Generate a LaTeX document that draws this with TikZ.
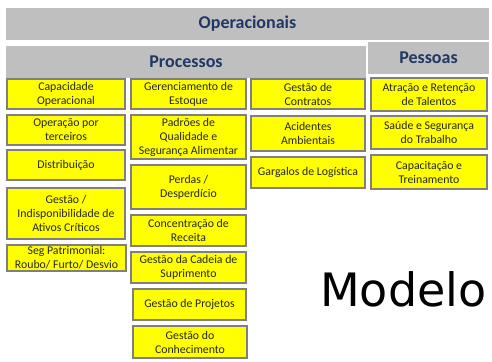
\documentclass[tikz,border=0pt]{standalone}
\usepackage{fontspec}
\setmainfont{Carlito}
\newfontfamily\carl{Carlito}
\newfontfamily\dejavu{DejaVu Sans}
\definecolor{bargray}{HTML}{BFBFBF}
\definecolor{navy}{HTML}{1F3864}
\definecolor{boxborder}{HTML}{7F7F7F}
\definecolor{ylw}{HTML}{FFFF00}
\tikzset{
  ybox/.style={draw=boxborder, line width=1.6pt, fill=ylw, inner sep=0pt,
    align=center, font=\carl\fontsize{11.8}{14}\selectfont, text=black!85},
  bar/.style={fill=bargray, inner sep=0pt, font=\carl\bfseries\fontsize{18}{20}\selectfont, text=navy}
}
\newcommand{\ybx}[6]{%
  \node[ybox, minimum width={#4pt-#2pt-1.6pt}, minimum height={#5pt-#3pt-1.6pt}]
    (#1) at ({(#2+#4)/2},{(#3+#5)/2}) {#6};}
\newcommand{\gbar}[6]{%
  \node[bar, minimum width={#4pt-#2pt}, minimum height={#5pt-#3pt}]
    (#1) at ({(#2+#4)/2},{(#3+#5)/2}) {#6};}
\begin{document}
\begin{tikzpicture}[x=1pt,y=-1pt]
\useasboundingbox (0,0) rectangle (492,361);
\fill[white] (0,0) rectangle (492,361);
\gbar{oper}{6}{8}{489}{40}{Operacionais}
\gbar{proc}{6}{46}{366}{78}{Processos}
\gbar{pess}{368}{42}{489}{74}{Pessoas}
% column 1
\ybx{a1}{6}{78}{126}{110}{Capacidade\\Operacional}
\ybx{a2}{6}{114}{126}{146}{Operação por\\terceiros}
\ybx{a3}{6}{149}{126}{181}{Distribuição}
\ybx{a4}{6}{187}{126}{240}{Gestão /\\Indisponibilidade de\\Ativos Críticos}
\ybx{a5}{6}{244}{127}{272}{Seg Patrimonial:\\Roubo/ Furto/ Desvio}
% column 2
\ybx{b1}{130}{78}{247}{110}{Gerenciamento de\\Estoque}
\ybx{b2}{130}{114}{247}{160}{Padrões de\\Qualidade e\\Segurança Alimentar}
\ybx{b3}{130}{164}{247}{210}{Perdas /\\Desperdício}
\ybx{b4}{130}{214}{247}{247}{Concentração de\\Receita}
\ybx{b5}{130}{251}{247}{284}{Gestão da Cadeia de\\Suprimento}
\ybx{b6}{132}{288}{247}{321}{Gestão de Projetos}
\ybx{b7}{132}{325}{248}{359}{Gestão do\\Conhecimento}
% column 3
\ybx{c1}{250}{78}{366}{110}{Gestão de\\Contratos}
\ybx{c2}{250}{115}{366}{152}{Acidentes\\Ambientais}
\ybx{c3}{250}{156}{366}{189}{Gargalos de Logística}
% column 4
\ybx{d1}{370}{77}{488}{112}{Atração e Retenção\\de Talentos}
\ybx{d2}{370}{115}{488}{150}{Saúde e Segurança\\do Trabalho}
\ybx{d3}{370}{154}{488}{190}{Capacitação e\\Treinamento}
\node[anchor=base west, inner sep=0pt, font=\dejavu\fontsize{46}{50}\selectfont] (modelo) at (320,306) {Modelo};
\end{tikzpicture}
\end{document}
